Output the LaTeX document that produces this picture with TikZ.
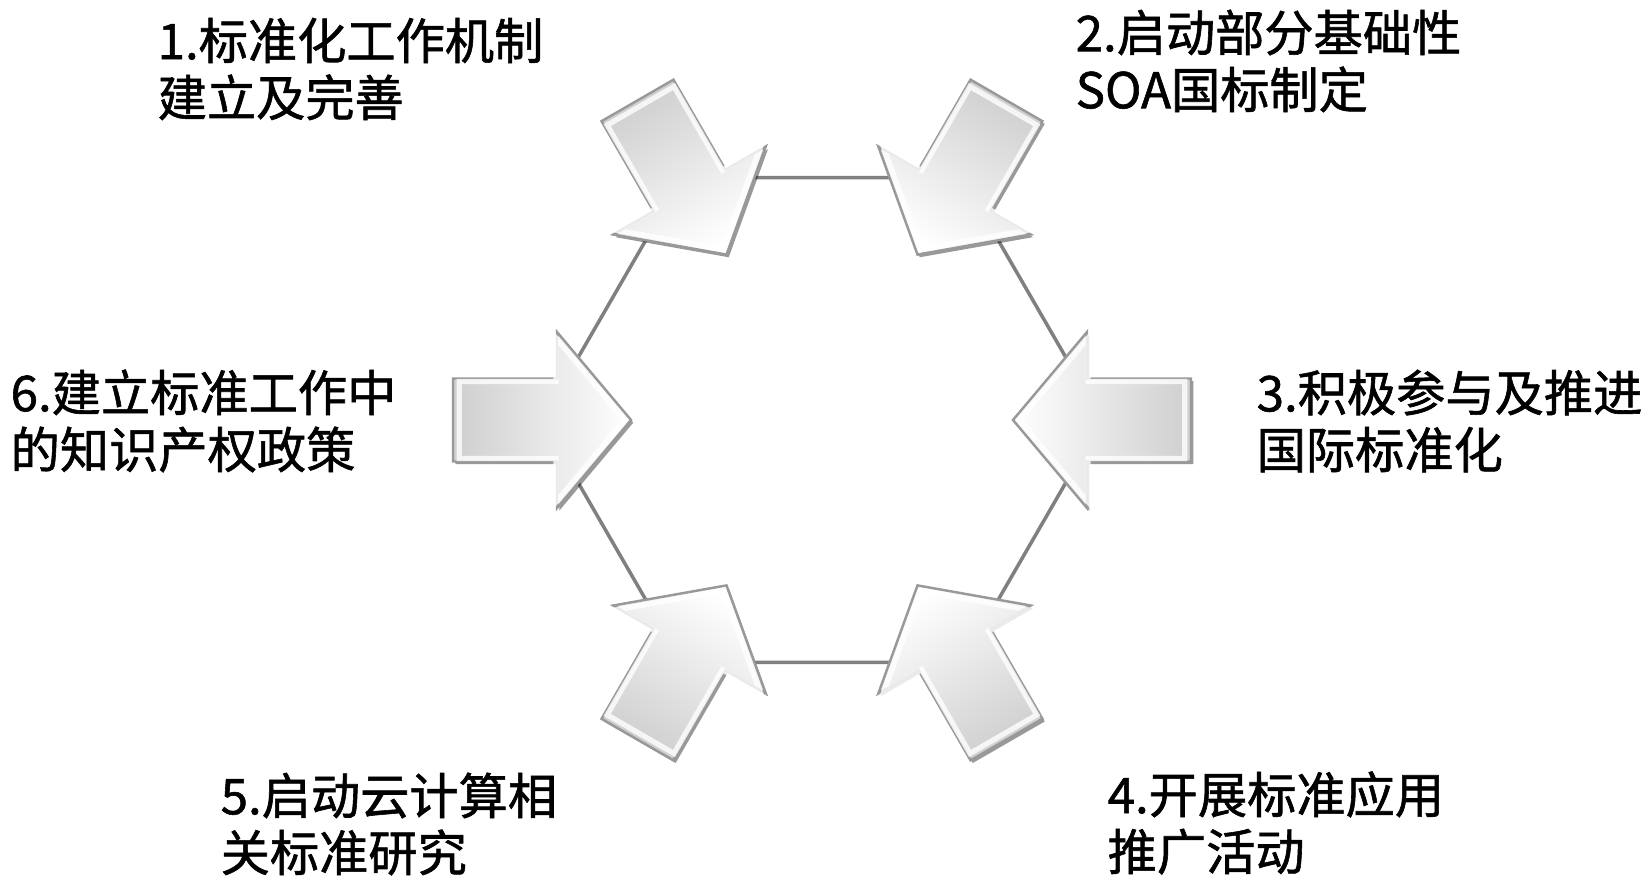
\documentclass[tikz,border=0pt]{standalone}
\usepackage{xcolor}
\usepackage{fontspec}
\usepackage{tikz}
\usetikzlibrary{positioning,calc}
\newfontfamily\cjk[FakeBold=1.2]{Noto Sans CJK SC}

\begin{document}
\begin{tikzpicture}[
			x = 0.01cm, y = 0.01cm,
			every node/.style = {inner sep=0pt, anchor=west, align=left,
				font=\cjk\fontsize{14pt}{16.2pt}\selectfont},
			hexline/.style = {draw=gray, line width=1pt},
			arrowshape/.style = {insert path={(-89,-41.5) -- (15,-41.5) -- (15,-88) -- (89,0)
				-- (15,88) -- (15,41.5) -- (-89,41.5) -- cycle}},
			arrowfill/.style = {top color=white, bottom color=gray!38, draw=gray!80, line width=0.7pt},
			arrowblock/.pic = {
				\pgfmathsetmacro\shang{#1-90}
				\fill[black, opacity=.4, shift={(-50-#1:3.5)}, arrowshape];
				\path[arrowfill, shading angle=\shang, arrowshape];
				\draw[white, line width=1.5pt, opacity=.8, scale=.93, arrowshape];
			}
		]

		\useasboundingbox (0,0) rectangle (1645,875);

		\coordinate (c) at (822,455);
		\coordinate (v1) at ($(c)+(120:280)$);
		\coordinate (v2) at ($(c)+(60:280)$);
		\coordinate (v3) at ($(c)+(0:280)$);
		\coordinate (v4) at ($(c)+(-60:280)$);
		\coordinate (v5) at ($(c)+(-120:280)$);
		\coordinate (v6) at ($(c)+(180:280)$);

		\draw[hexline] (v1) -- (v2) -- (v3) -- (v4) -- (v5) -- (v6) -- cycle;

		\pic[rotate=-60] at (v1) {arrowblock=-60};
		\pic[rotate=-120] at (v2) {arrowblock=-120};
		\pic[rotate=180] at (v3) {arrowblock=180};
		\pic[rotate=120] at (v4) {arrowblock=120};
		\pic[rotate=60] at (v5) {arrowblock=60};
		\pic[rotate=0] at (v6) {arrowblock=0};

		\node (t1) at (157,806) {1.标准化工作机制\\建立及完善};
		\node (t2) at (1075,814) {2.启动部分基础性\\SOA国标制定};
		\node (t3) at (1256,454) {3.积极参与及推进\\国际标准化};
		\node (t4) at (1107,52) {4.开展标准应用\\推广活动};
		\node (t5) at (220,51) {5.启动云计算相\\关标准研究};
		\node (t6) at (10,454) {6.建立标准工作中\\的知识产权政策};

		\end{tikzpicture}
\end{document}
